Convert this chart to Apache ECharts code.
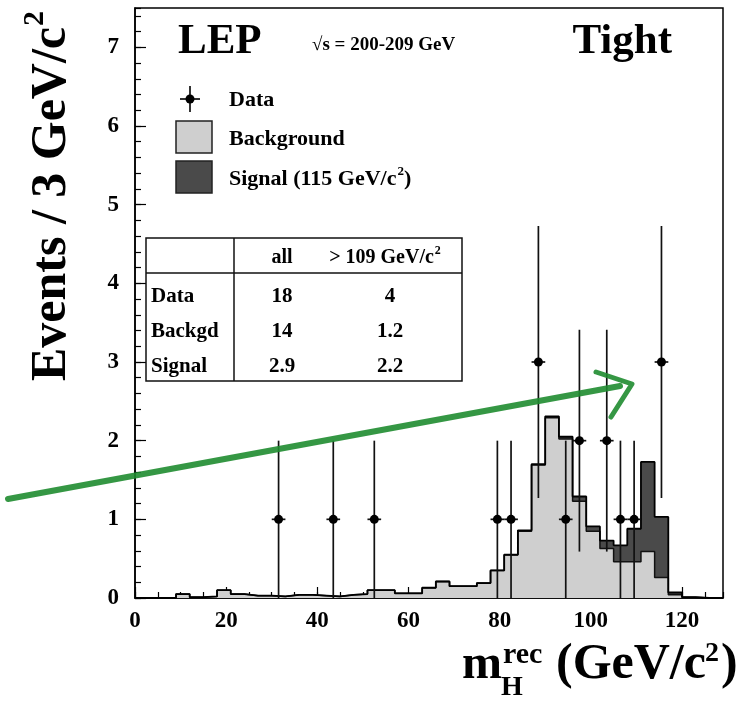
<!DOCTYPE html>
<html>
<head>
<meta charset="utf-8">
<script src="https://cdn.jsdelivr.net/npm/echarts/dist/echarts.min.js"></script>
<style>
  html, body { margin: 0; padding: 0; background: #fff; }
  #chart { width: 751px; height: 708px; }
</style>
</head>
<body>
<div id="chart"></div>
<script>
// reconstructed mass, 3 GeV bins from 0 to 129
const binWidth = 3;
const binLow = [0, 3, 6, 9, 12, 15, 18, 21, 24, 27, 30, 33, 36, 39, 42, 45, 48, 51, 54, 57, 60,
  63, 66, 69, 72, 75, 78, 81, 84, 87, 90, 93, 96, 99, 102, 105, 108, 111, 114, 117, 120, 123, 126];
const background = [0, 0, 0, 0.05, 0.01, 0.02, 0.10, 0.05, 0.03, 0.03, 0.02, 0.04, 0.04, 0.03, 0.02,
  0.04, 0.05, 0.10, 0.10, 0.06, 0.06, 0.13, 0.21, 0.15, 0.15, 0.19, 0.35, 0.55, 0.85, 1.69, 2.29,
  2.02, 1.23, 0.85, 0.63, 0.46, 0.46, 0.59, 0.26, 0.04, 0.01, 0, 0];
const signal = [0, 0, 0, 0, 0, 0, 0, 0, 0, 0, 0, 0, 0, 0, 0, 0, 0, 0, 0, 0, 0, 0, 0, 0, 0, 0, 0,
  0, 0.01, 0.01, 0.02, 0.03, 0.06, 0.06, 0.10, 0.21, 0.42, 1.14, 0.77, 0.03, 0, 0, 0];

const dataMass = [31.5, 43.5, 52.5, 79.5, 82.5, 88.5, 94.5, 97.5, 103.5, 106.5, 109.5, 115.5];
const dataCount = [1, 1, 1, 1, 1, 3, 1, 2, 2, 1, 1, 3];
const dataErr = [1, 1, 1, 1, 1, 1.73, 1, 1.41, 1.41, 1, 1, 1.73];

const tableRows = ['Data', 'Backgd', 'Signal'];
const tableAll = ['18', '14', '2.9'];
const tableHigh = ['4', '1.2', '2.2'];

const SERIF = '"Liberation Serif", "DejaVu Serif", serif';
const BKG = '#cfcfcf';
const SIG = '#4a4a4a';

const total = background.map((b, i) => +(b + signal[i]).toFixed(3));

function steps(vals) {
  const pts = [];
  vals.forEach((v, i) => {
    pts.push([binLow[i], v], [binLow[i] + binWidth, v]);
  });
  return pts;
}

const measureCtx = document.createElement('canvas').getContext('2d');
function textWidth(text, size) {
  measureCtx.font = 'bold ' + size + 'px ' + SERIF;
  return measureCtx.measureText(text).width;
}

function txt(text, x, y, size, align, vAlign) {
  return {
    type: 'text',
    z: 20,
    style: {
      text: text, x: x, y: y,
      font: 'bold ' + size + 'px ' + SERIF,
      fill: '#000',
      textAlign: align || 'left',
      textVerticalAlign: vAlign || 'middle'
    }
  };
}

// text ending in "c" + superscript 2 (+ optional tail), left or centre aligned
function withSquare(head, tail, x, y, size, align) {
  const supSize = Math.round(size * 0.6);
  const w = textWidth(head, size) + textWidth('2', supSize) + 1 + (tail ? textWidth(tail, size) : 0);
  let left = align === 'center' ? x - w / 2 : x;
  const out = [txt(head, left, y, size)];
  left += textWidth(head, size) + 1;
  out.push(txt('2', left, y - size * 0.33, supSize));
  left += textWidth('2', supSize);
  if (tail) out.push(txt(tail, left, y, size));
  return out;
}

const graphics = [];

// titles
graphics.push(txt('LEP', 178, 42, 43));
graphics.push(txt('\u221As = 200-209 GeV', 312, 45, 19));
graphics.push(txt('Tight', 672, 42, 43, 'right'));

// legend
graphics.push({ type: 'line', z: 20, shape: { x1: 190, y1: 86, x2: 190, y2: 112 }, style: { stroke: '#000', lineWidth: 1.6 } });
graphics.push({ type: 'line', z: 20, shape: { x1: 180, y1: 99, x2: 200, y2: 99 }, style: { stroke: '#000', lineWidth: 1.6 } });
graphics.push({ type: 'circle', z: 20, shape: { cx: 190, cy: 99, r: 4.5 }, style: { fill: '#000' } });
graphics.push({ type: 'rect', z: 20, shape: { x: 176, y: 121, width: 36, height: 32 }, style: { fill: BKG, stroke: '#222', lineWidth: 1.5 } });
graphics.push({ type: 'rect', z: 20, shape: { x: 176, y: 161, width: 36, height: 32 }, style: { fill: SIG, stroke: '#222', lineWidth: 1.5 } });
graphics.push(txt('Data', 229, 100, 22));
graphics.push(txt('Background', 229, 139, 22));
graphics.push(...withSquare('Signal (115 GeV/c', ')', 229, 179, 22));

// table
graphics.push({ type: 'rect', z: 20, shape: { x: 146, y: 238, width: 316, height: 143 }, style: { fill: '#fff', stroke: '#111', lineWidth: 1.5 } });
graphics.push({ type: 'line', z: 21, shape: { x1: 234, y1: 238, x2: 234, y2: 381 }, style: { stroke: '#111', lineWidth: 1.5 } });
graphics.push({ type: 'line', z: 21, shape: { x1: 146, y1: 273, x2: 462, y2: 273 }, style: { stroke: '#111', lineWidth: 1.5 } });
graphics.push(txt('all', 282, 258, 20, 'center'));
graphics.push(...withSquare('> 109 GeV/c', '', 385, 258, 20, 'center'));
tableRows.forEach((r, i) => {
  const y = 297 + i * 35;
  graphics.push(txt(r, 151, y, 21));
  graphics.push(txt(tableAll[i], 282, y, 21, 'center'));
  graphics.push(txt(tableHigh[i], 390, y, 21, 'center'));
});

// axis titles
graphics.push({
  type: 'group', x: 52, y: 192, rotation: Math.PI / 2, z: 20,
  children: withSquare('Events / 3 GeV/c', '', -4, 0, 50, 'center')
});
graphics.push(txt('m', 462, 690, 48, 'left', 'bottom'));
graphics.push(txt('H', 501, 702, 28, 'left', 'bottom'));
graphics.push(txt('rec', 503, 670, 30, 'left', 'bottom'));
graphics.push(txt('(GeV/c', 556, 690, 50, 'left', 'bottom'));
graphics.push(txt('2', 705, 668, 28, 'left', 'bottom'));
graphics.push(txt(')', 721, 690, 50, 'left', 'bottom'));

// green hand-drawn arrow
graphics.push({ type: 'polyline', z: 30, shape: { points: [[8, 499], [620, 386]] }, style: { stroke: '#1f8c30', lineWidth: 6, opacity: 0.9, lineCap: 'round' } });
graphics.push({ type: 'polyline', z: 30, shape: { points: [[596, 372], [632, 384], [611, 417]] }, style: { stroke: '#1f8c30', lineWidth: 5, fill: null, opacity: 0.9, lineCap: 'round', lineJoin: 'round' } });

const chart = echarts.init(document.getElementById('chart'), null, { renderer: 'canvas' });

const axisFont = { fontFamily: SERIF, fontWeight: 'bold', fontSize: 23, color: '#000' };

chart.setOption({
  animation: false,
  backgroundColor: '#fff',
  grid: { left: 135, right: 28, top: 8, bottom: 110, show: true, borderColor: '#000', borderWidth: 1.5, backgroundColor: 'transparent' },
  xAxis: [
    {
      type: 'value', min: 0, max: 129, interval: 20,
      axisLine: { show: true, lineStyle: { color: '#000', width: 1.5 } },
      axisTick: { show: true, inside: true, length: 11, lineStyle: { color: '#000', width: 1.2 } },
      axisLabel: Object.assign({ margin: 12, showMaxLabel: false }, axisFont),
      splitLine: { show: false }
    },
    {
      type: 'value', min: 0, max: 129, interval: 5, position: 'bottom',
      axisLine: { show: false },
      axisTick: { show: true, inside: true, length: 6, lineStyle: { color: '#000', width: 1.2 } },
      axisLabel: { show: false },
      splitLine: { show: false }
    }
  ],
  yAxis: [
    {
      type: 'value', min: 0, max: 7.5, interval: 1,
      axisLine: { show: true, lineStyle: { color: '#000', width: 1.5 } },
      axisTick: { show: true, inside: true, length: 11, lineStyle: { color: '#000', width: 1.2 } },
      axisLabel: Object.assign({ margin: 16, showMaxLabel: false }, axisFont),
      splitLine: { show: false }
    },
    {
      type: 'value', min: 0, max: 7.5, interval: 0.2, position: 'left',
      axisLine: { show: false },
      axisTick: { show: true, inside: true, length: 6, lineStyle: { color: '#000', width: 1.2 } },
      axisLabel: { show: false },
      splitLine: { show: false }
    }
  ],
  graphic: { elements: graphics },
  series: [
    {
      name: 'Signal fill', type: 'line', data: steps(total), symbol: 'none', z: 1,
      lineStyle: { width: 0 }, areaStyle: { color: SIG, opacity: 1 }
    },
    {
      name: 'Background fill', type: 'line', data: steps(background), symbol: 'none', z: 2,
      lineStyle: { width: 0 }, areaStyle: { color: BKG, opacity: 1 }
    },
    {
      name: 'Background', type: 'line', data: steps(background), symbol: 'none', z: 3,
      lineStyle: { color: '#111', width: 1.5 }
    },
    {
      name: 'Total', type: 'line', data: steps(total), symbol: 'none', z: 4,
      lineStyle: { color: '#000', width: 1.8 }
    },
    {
      name: 'Data', type: 'custom', z: 10,
      data: dataMass.map((m, i) => [m, dataCount[i], dataErr[i]]),
      renderItem: function (params, api) {
        const x = api.value(0), n = api.value(1), e = api.value(2);
        const c = api.coord([x, n]);
        const top = api.coord([x, n + e]);
        const bot = api.coord([x, Math.max(0, n - e)]);
        const l = api.coord([x - binWidth / 2, n]);
        const r = api.coord([x + binWidth / 2, n]);
        return {
          type: 'group',
          children: [
            { type: 'line', shape: { x1: c[0], y1: top[1], x2: c[0], y2: bot[1] }, style: { stroke: '#111', lineWidth: 1.7 } },
            { type: 'line', shape: { x1: l[0], y1: c[1], x2: r[0], y2: c[1] }, style: { stroke: '#111', lineWidth: 1.7 } },
            { type: 'circle', shape: { cx: c[0], cy: c[1], r: 4.5 }, style: { fill: '#000' } }
          ]
        };
      }
    }
  ]
});
</script>
</body>
</html>
